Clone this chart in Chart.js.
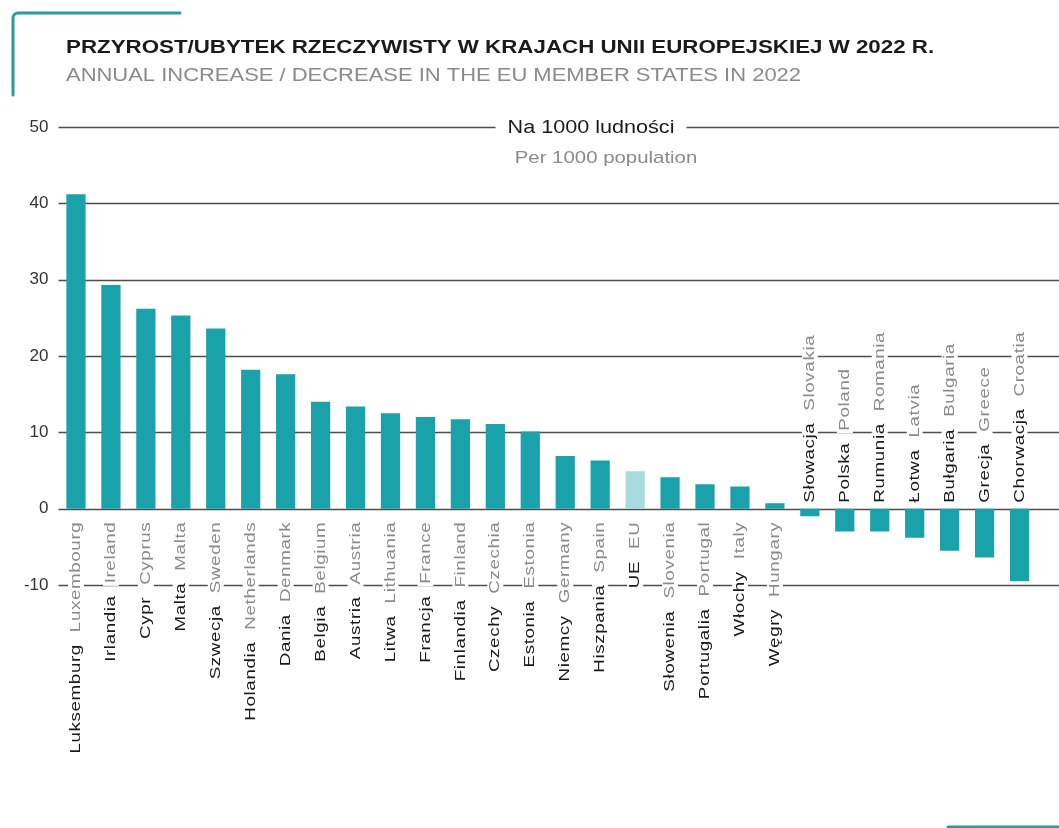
<!DOCTYPE html>
<html>
<head>
<meta charset="utf-8">
<script src="https://cdn.jsdelivr.net/npm/chart.js@4/dist/chart.umd.min.js"></script>
<style>
  body { margin: 0; background: #fff; }
</style>
</head>
<body>
<canvas id="przyrostChart" width="1059" height="828"></canvas>
<script>
var countriesPl = ["Luksemburg", "Irlandia", "Cypr", "Malta", "Szwecja", "Holandia", "Dania", "Belgia", "Austria", "Litwa",
	"Francja", "Finlandia", "Czechy", "Estonia", "Niemcy", "Hiszpania", "UE", "Słowenia", "Portugalia", "Włochy",
	"Węgry", "Słowacja", "Polska", "Rumunia", "Łotwa", "Bułgaria", "Grecja", "Chorwacja"];
var countriesEn = ["Luxembourg", "Ireland", "Cyprus", "Malta", "Sweden", "Netherlands", "Denmark", "Belgium", "Austria", "Lithuania",
	"France", "Finland", "Czechia", "Estonia", "Germany", "Spain", "EU", "Slovenia", "Portugal", "Italy",
	"Hungary", "Slovakia", "Poland", "Romania", "Latvia", "Bulgaria", "Greece", "Croatia"];
var przyrostValues = [41.2, 29.3, 26.2, 25.3, 23.6, 18.2, 17.6, 14.0, 13.4, 12.5,
	12.0, 11.7, 11.1, 10.1, 6.9, 6.3, 4.9, 4.1, 3.2, 2.9,
	0.7, -1.0, -3.0, -3.0, -3.8, -5.5, -6.4, -9.5];
var yTicks = [-10, 0, 10, 20, 30, 40, 50];

var titlePl = "PRZYROST/UBYTEK RZECZYWISTY W KRAJACH UNII EUROPEJSKIEJ W 2022 R.";
var titleEn = "ANNUAL INCREASE / DECREASE IN THE EU MEMBER STATES IN 2022";
var unitPl = "Na 1000 ludności";
var unitEn = "Per 1000 population";

var teal = "#19a2aa";
var tealLight = "#a7dadd";
var gridColor = "#4d4d4d";
var FONT = '"Liberation Sans", Arial, sans-serif';

var barColors = countriesPl.map(function (c) { return c === "UE" ? tealLight : teal; });

// horizontal text, stretched along the baseline (the original uses a wide face)
function wideText(ctx, txt, x, y, font, color, align, sx, bg) {
	ctx.save();
	ctx.font = font;
	ctx.textBaseline = "alphabetic";
	var w = ctx.measureText(txt).width * sx;
	var left = align === "center" ? x - w / 2 : x;
	if (bg) {
		ctx.fillStyle = "#fff";
		ctx.fillRect(left - 12, y - 18, w + 24, 24);
	}
	ctx.translate(left, y);
	ctx.scale(sx, 1);
	ctx.fillStyle = color;
	ctx.textAlign = "left";
	ctx.fillText(txt, 0, 0);
	ctx.restore();
}

var decorPlugin = {
	id: "decor",
	beforeDatasetsDraw: function (chart) {
		var ctx = chart.ctx, y = chart.scales.y, area = chart.chartArea;
		ctx.save();
		ctx.strokeStyle = gridColor;
		ctx.lineWidth = 1.3;
		yTicks.forEach(function (v) {
			var py = Math.round(y.getPixelForValue(v)) + 0.5;
			ctx.beginPath();
			ctx.moveTo(area.left, py);
			ctx.lineTo(chart.width, py);
			ctx.stroke();
		});
		ctx.restore();
	},
	afterDatasetsDraw: function (chart) {
		var ctx = chart.ctx, x = chart.scales.x, y = chart.scales.y;
		var y0 = y.getPixelForValue(0);
		var sx = 1.25;

		// rotated country labels, Polish then English reading upwards
		countriesPl.forEach(function (pl, i) {
			var en = countriesEn[i];
			var px = x.getPixelForValue(i);
			var neg = przyrostValues[i] < 0;
			ctx.save();
			ctx.translate(px, neg ? y0 - 6 : y0 + 13);
			ctx.rotate(-Math.PI / 2);
			ctx.scale(sx, 1);
			ctx.font = "15px " + FONT;
			ctx.letterSpacing = "0.5px";
			ctx.textBaseline = "middle";
			ctx.textAlign = "left";
			var wPl = ctx.measureText(pl).width;
			var wEn = ctx.measureText(en).width;
			var gap = 12 / sx;
			var sPl, sEn;
			if (neg) {
				sPl = 0; sEn = wPl + gap;
			} else {
				sEn = -wEn; sPl = -wEn - gap - wPl;
			}
			ctx.fillStyle = "#fff";
			ctx.fillRect(sPl - 2, -8, wPl + 3, 16);
			ctx.fillRect(sEn - 2, -8, wEn + 3, 16);
			ctx.fillStyle = "#1a1a1a";
			ctx.fillText(pl, sPl, 0);
			ctx.fillStyle = "#8a8a8a";
			ctx.fillText(en, sEn, 0);
			ctx.restore();
		});

		// unit captions over the top gridline
		var y50 = y.getPixelForValue(50);
		wideText(ctx, unitPl, 591, y50 + 6, "18px " + FONT, "#1a1a1a", "center", 1.2, true);
		wideText(ctx, unitEn, 606, y50 + 36, "17px " + FONT, "#8a8a8a", "center", 1.2, false);

		// titles
		wideText(ctx, titlePl, 66, 53, "bold 18px " + FONT, "#1a1a1a", "left", 1.24, false);
		wideText(ctx, titleEn, 66, 81, "18px " + FONT, "#8a8a8a", "left", 1.22, false);

		// teal bracket top-left and stub bottom-right
		ctx.save();
		ctx.strokeStyle = "#2a9a9c";
		ctx.lineWidth = 3;
		ctx.lineCap = "round";
		ctx.beginPath();
		ctx.moveTo(13, 95);
		ctx.lineTo(13, 18);
		ctx.arcTo(13, 13, 18, 13, 5);
		ctx.lineTo(180, 13);
		ctx.stroke();
		ctx.beginPath();
		ctx.moveTo(948, 827);
		ctx.lineTo(1059, 827);
		ctx.stroke();
		ctx.restore();
	}
};

var przyrostChart = new Chart(document.getElementById("przyrostChart"), {
	type: "bar",
	data: {
		labels: countriesPl,
		datasets: [
			{
				label: "Przyrost",
				data: przyrostValues,
				backgroundColor: barColors,
				borderWidth: 0,
				categoryPercentage: 1,
				barPercentage: 0.55
			}
		]
	},
	options: {
		responsive: false,
		devicePixelRatio: 1,
		animation: false,
		layout: { padding: { top: 127, bottom: 243, left: 0, right: 22 } },
		plugins: {
			legend: { display: false },
			tooltip: { enabled: false }
		},
		scales: {
			x: { display: false, offset: true },
			y: {
				min: -10,
				max: 50,
				afterFit: function (scale) { scale.width = 58.5; },
				border: { display: false },
				grid: { display: false, drawTicks: false },
				ticks: {
					stepSize: 10,
					padding: 10,
					color: "#333",
					font: { family: FONT, size: 17 }
				}
			}
		}
	},
	plugins: [decorPlugin]
});
</script>
</body>
</html>
